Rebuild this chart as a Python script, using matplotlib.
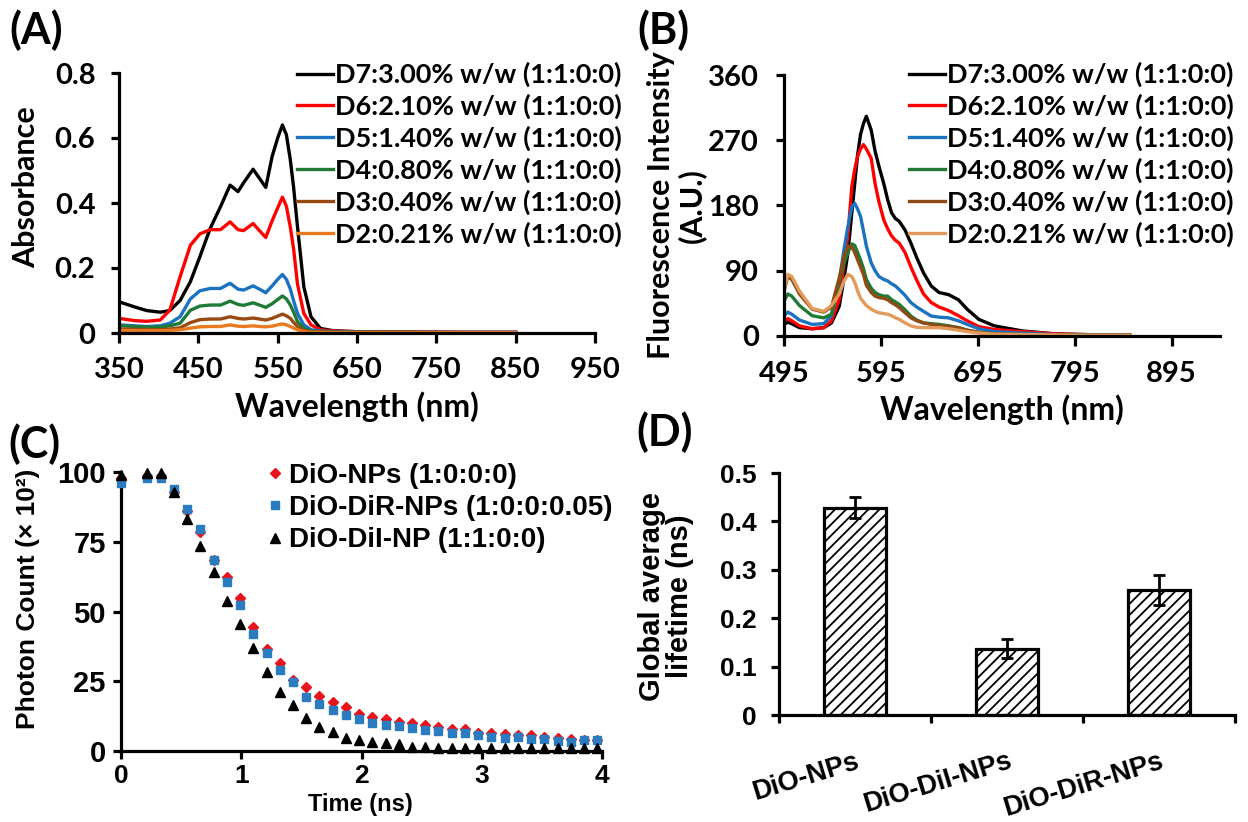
import matplotlib.pyplot as plt

plt.rcParams["font.family"] = ["Lato", "DejaVu Sans"]
plt.rcParams["font.weight"] = "bold"
plt.rcParams["hatch.linewidth"] = 1.3

CAL = ["Lato", "DejaVu Sans"]
ARIAL = ["Liberation Sans", "DejaVu Sans"]

# ---- (A) absorbance spectra ----
wl_a = [350, 370, 385, 402, 414, 427, 440, 452, 465, 478, 490, 500, 507, 519, 527, 535,
        543, 550, 556, 561, 566, 570, 575, 583, 592, 604, 620, 650, 700, 780, 850]
abs_d7 = [.096, .080, .069, .064, .069, .100, .158, .235, .322, .389, .455, .435, .462, .504, .476, .448,
          .543, .600, .640, .610, .532, .450, .327, .142, .050, .014, .007, .004, .003, .002, .002]
abs_d6 = [.045, .038, .036, .040, .070, .173, .270, .305, .318, .318, .342, .318, .315, .337, .315, .294,
          .345, .385, .418, .390, .325, .260, .150, .060, .025, .010, .006, .004, .003, .002, .002]
abs_d5 = [.025, .022, .020, .022, .030, .050, .105, .130, .137, .137, .153, .135, .132, .145, .135, .124,
          .145, .165, .180, .165, .135, .100, .060, .025, .010, .006, .004, .003, .002, .002, .002]
abs_d4 = [.022, .020, .018, .018, .022, .030, .070, .083, .086, .086, .098, .088, .085, .093, .086, .079,
          .090, .103, .114, .105, .086, .065, .035, .014, .006, .004, .003, .002, .002, .001, .001]
abs_d3 = [.012, .011, .010, .010, .012, .016, .032, .041, .043, .043, .050, .045, .043, .046, .043, .040,
          .045, .052, .058, .053, .045, .033, .020, .008, .004, .003, .002, .002, .002, .001, .001]
abs_d2 = [.008, .007, .007, .007, .008, .010, .015, .019, .020, .020, .025, .021, .020, .022, .020, .019,
          .021, .025, .028, .025, .020, .015, .010, .004, .002, .002, .001, .001, .001, .001, .001]

series_labels = ["D7:3.00% w/w (1:1:0:0)", "D6:2.10% w/w (1:1:0:0)", "D5:1.40% w/w (1:1:0:0)",
                 "D4:0.80% w/w (1:1:0:0)", "D3:0.40% w/w (1:1:0:0)", "D2:0.21% w/w (1:1:0:0)"]
colors_a = ["#000000", "#ff0000", "#1a72c0", "#1e7a34", "#984a12", "#e97a1e"]
colors_b = ["#000000", "#ff0000", "#1a72c0", "#1e7a34", "#8f4a14", "#e39b5c"]

# ---- (B) fluorescence spectra ----
wl_b = [495, 499, 503, 511, 524, 536, 544, 552, 557, 561, 565, 568, 571, 574, 577, 580, 585, 589, 593,
        598, 602, 606, 610, 614, 620, 626, 632, 639, 647, 655, 665, 675, 684, 696, 712, 741, 774, 803, 852]
fl_d7 = [16, 19, 17, 11.5, 10, 11.5, 18, 41, 80, 115, 170, 210, 250, 278, 293, 303, 284, 255, 234,
         210, 188, 170, 162, 158, 146, 128, 108, 87, 69, 60, 57, 50, 37, 23, 14, 7, 3, 2, 1]
fl_d6 = [20, 24, 21, 14, 10, 11.5, 21, 50, 100, 140, 206, 230, 248, 258, 264, 258, 245, 210, 185,
         160, 148, 138, 132, 128, 115, 95, 77, 58, 46, 40, 35, 28, 21, 13, 9, 6, 3, 2, 1]
fl_d5 = [27.5, 33, 30, 22, 16, 17, 28, 75, 120, 151, 178, 183, 175, 165, 145, 124, 101, 90, 82,
         78, 76, 72, 69, 64, 56, 46, 40, 34, 27.5, 26, 25, 21, 16, 10, 6, 4, 2, 1.5, 1]
fl_d4 = [48, 58, 55, 42, 28, 25, 30, 75, 100, 115, 127, 125, 115, 105, 93, 78, 66, 60, 57,
         55, 55, 50, 47, 43.5, 36, 27.5, 22, 18, 17, 16, 14, 11.5, 8, 5, 3, 2, 1.5, 1, 1]
fl_d3 = [62, 82, 78, 58, 37, 33, 40, 80, 110, 124, 123, 115, 105, 95, 85, 70, 60, 55, 53,
         52, 50, 46, 43, 39, 32, 25, 21, 18, 16, 14, 13, 11.5, 8, 5, 3, 2, 1.5, 1, 1]
fl_d2 = [64, 85, 82, 62, 38, 34, 42, 58, 76, 85, 82, 74, 62, 52, 47, 42, 37, 34, 32,
         31, 30, 28, 25, 23, 18, 14, 12, 11.5, 11.5, 11.5, 10, 8, 6, 4, 2.5, 2, 1.5, 1, 1]

# ---- (C) photon count decays ----
time_ns = [0, 0.22, 0.33, 0.44, 0.55, 0.66, 0.77, 0.88, 0.99, 1.10, 1.21, 1.32, 1.43, 1.54, 1.65, 1.76,
           1.87, 1.98, 2.09, 2.20, 2.31, 2.42, 2.53, 2.64, 2.75, 2.86, 2.97, 3.08, 3.19, 3.30, 3.41,
           3.52, 3.63, 3.74, 3.85, 3.96]
count_dio = [98, 98.5, 98.5, 93, 86, 78.4, 68.6, 62.5, 54.7, 44.3, 36.5, 31.5, 25.5, 23, 19.8, 17.4,
             15.6, 13.2, 12.2, 11.4, 10.5, 10.2, 9.3, 8.6, 8.0, 7.8, 6.6, 6.3, 6.2, 5.6, 5.6,
             5.1, 4.8, 4.4, 4.0, 3.8]
count_dir = [96, 98, 98, 93.8, 86.8, 79.6, 68.6, 60.5, 52.3, 41.9, 35.3, 29.1, 24.8, 19.2, 16.8, 14.7,
             12.8, 11.4, 10.2, 9.3, 9.0, 8.4, 7.5, 7.2, 6.3, 6.3, 5.6, 5.0, 4.8, 5.0, 4.4,
             4.2, 3.6, 3.4, 3.8, 3.8]
count_dii = [99, 99.5, 99.5, 92.8, 83.2, 73.6, 64, 53.6, 45.5, 36.8, 28.4, 21.2, 16.4, 12, 8.6, 6.8,
             4.8, 4, 3.4, 2.8, 2.4, 1.4, 1.4, 1.2, 1.2, 1.2, 1.0, 1, 1, 1, 1,
             1, 1, 1, 1, 1]

# ---- (D) lifetimes ----
np_names = ["DiO-NPs", "DiO-DiI-NPs", "DiO-DiR-NPs"]
lifetime = [0.428, 0.137, 0.258]
lifetime_err = [0.022, 0.020, 0.031]

W, H = 1248, 822
fig = plt.figure(figsize=(W / 100, H / 100), dpi=100)


def px_axes(left, top, right, bottom):
    return fig.add_axes([left / W, 1 - bottom / H, (right - left) / W, (bottom - top) / H])


def style(ax, family, size, xpad, ypad, xlen=7, ylen=6):
    for s in ("top", "right"):
        ax.spines[s].set_visible(False)
    for s in ("left", "bottom"):
        ax.spines[s].set_linewidth(2.3)
    ax.tick_params(axis="x", direction="out", length=xlen, width=2.3, pad=xpad, labelsize=size)
    ax.tick_params(axis="y", direction="out", length=ylen, width=2.3, pad=ypad, labelsize=size)
    for lab in ax.get_xticklabels() + ax.get_yticklabels():
        lab.set_fontfamily(family)
        lab.set_fontweight("bold")


legend_kw = dict(bbox_transform=fig.transFigure, frameon=False, fontsize=19.5, handlelength=1.33,
                 handletextpad=0.07, labelspacing=0.24, borderpad=0, borderaxespad=0, loc="upper left")

# (A)
ax_a = px_axes(119, 73, 595, 333)
for vals, c, lab in zip([abs_d7, abs_d6, abs_d5, abs_d4, abs_d3, abs_d2], colors_a, series_labels):
    ax_a.plot(wl_a, vals, color=c, lw=2.4, label=lab)
ax_a.set_xlim(350, 950)
ax_a.set_ylim(0, 0.8)
ax_a.set_xticks(range(350, 951, 100))
ax_a.set_yticks([0, 0.2, 0.4, 0.6, 0.8], ["0", "0.2", "0.4", "0.6", "0.8"])
style(ax_a, CAL, 21, 10, 11)
ax_a.set_xlabel("Wavelength (nm)", fontsize=23, fontweight="bold")
ax_a.set_ylabel("Absorbance", fontsize=22, fontweight="bold")
ax_a.xaxis.set_label_coords(0.5, -0.225)
ax_a.yaxis.set_label_coords(-0.165, 0.56)
ax_a.legend(bbox_to_anchor=(297 / W, 1 - 62 / H), **legend_kw)

# (B)
ax_b = px_axes(784, 75, 1220, 336)
for vals, c, lab in zip([fl_d7, fl_d6, fl_d5, fl_d4, fl_d3, fl_d2], colors_b, series_labels):
    ax_b.plot(wl_b, vals, color=c, lw=2.4, label=lab)
ax_b.set_xlim(495, 945)
ax_b.set_ylim(0, 360)
ax_b.set_xticks(range(495, 896, 100))
ax_b.set_yticks([0, 90, 180, 270, 360])
style(ax_b, CAL, 21, 11, 12)
ax_b.set_xlabel("Wavelength (nm)", fontsize=23, fontweight="bold")
ax_b.set_ylabel("Fluorescence Intensity\n(A.U.)", fontsize=22, fontweight="bold", linespacing=1.1)
ax_b.xaxis.set_label_coords(0.5, -0.225)
ax_b.yaxis.set_label_coords(-0.178, 0.5)
ax_b.legend(bbox_to_anchor=(909 / W, 1 - 62 / H), **legend_kw)

# (C)
ax_c = px_axes(121, 472, 602, 751)
ax_c.plot(time_ns, count_dio, ls="none", marker="D", ms=5.5, color="#e8141b", mec="#e8141b",
          label="DiO-NPs (1:0:0:0)", clip_on=False, zorder=3)
ax_c.plot(time_ns, count_dir, ls="none", marker="s", ms=6, color="#2a7bc0", mec="#2a7bc0",
          label="DiO-DiR-NPs (1:0:0:0.05)", clip_on=False, zorder=4)
ax_c.plot(time_ns, count_dii, ls="none", marker="^", ms=7, color="black",
          label="DiO-DiI-NP (1:1:0:0)", clip_on=False, zorder=5)
ax_c.set_xlim(0, 4)
ax_c.set_ylim(0, 100)
ax_c.set_xticks([0, 1, 2, 3, 4])
ax_c.set_yticks([0, 25, 50, 75, 100])
style(ax_c, ARIAL, 21, 3, 5, xlen=6, ylen=6)
ax_c.tick_params(axis="x", labelsize=19)
ax_c.set_xlabel("Time (ns)", fontsize=17, fontweight="bold", family=ARIAL)
ax_c.set_ylabel("Photon Count (× 10²)", fontsize=19, fontweight="bold", family=ARIAL)
ax_c.xaxis.set_label_coords(0.497, -0.152)
ax_c.yaxis.set_label_coords(-0.168, 0.545)
ax_c.legend(loc="upper left", bbox_to_anchor=(268 / W, 1 - 463 / H), bbox_transform=fig.transFigure,
            frameon=False, prop={"family": ARIAL, "weight": "bold", "size": 20}, handlelength=0.5,
            handletextpad=0.25, labelspacing=0.22, borderpad=0, borderaxespad=0, numpoints=1)

# (D)
ax_d = px_axes(779, 473, 1235, 715)
pos = [0.5, 1.5, 2.5]
ax_d.bar(pos, lifetime, width=0.41, color="white", edgecolor="black", linewidth=2.3, hatch="///",
         zorder=2)
ax_d.errorbar(pos, lifetime, yerr=lifetime_err, fmt="none", ecolor="black", elinewidth=2,
              capsize=4, capthick=2, zorder=3)
ax_d.set_xlim(0, 3)
ax_d.set_ylim(0, 0.5)
ax_d.set_xticks([0, 1, 2, 3], ["", "", "", ""])
ax_d.set_xticks(pos, np_names, minor=True)
ax_d.set_yticks([0, 0.1, 0.2, 0.3, 0.4, 0.5], ["0", "0.1", "0.2", "0.3", "0.4", "0.5"])
style(ax_d, ARIAL, 19, 6, 10, xlen=6, ylen=6)
ax_d.tick_params(axis="x", which="minor", length=0, pad=24, labelsize=19.5)
for lab in ax_d.get_xticklabels(minor=True):
    lab.set_fontfamily(ARIAL)
    lab.set_fontweight("bold")
    lab.set_rotation(17)
    lab.set_ha("right")
    lab.set_va("top")
    lab.set_rotation_mode("anchor")
ax_d.set_ylabel("Global average\nlifetime (ns)", fontsize=21, fontweight="bold", family=ARIAL,
                linespacing=1.0)
ax_d.yaxis.set_label_coords(-0.186, 0.49)

# panel letters
for letter, x, y in [("(A)", 9, 9), ("(B)", 637, 9), ("(C)", 8, 423), ("(D)", 636, 411)]:
    fig.text(x / W, 1 - y / H, letter, fontsize=31, fontweight="bold", family=CAL, va="top", ha="left")

fig.savefig("out.png", dpi=100)
